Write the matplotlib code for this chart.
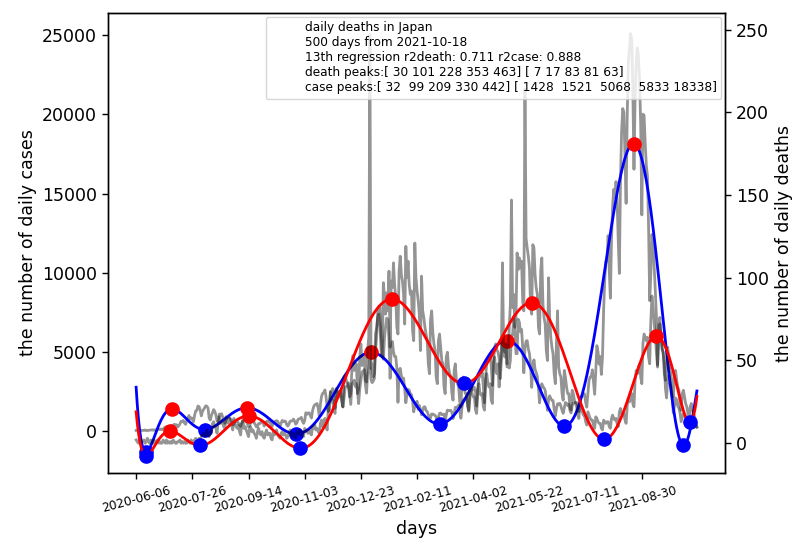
import numpy as np
import matplotlib
matplotlib.use("Agg")
import matplotlib.pyplot as plt

# ---------------- data (daily values, day 0 = 2020-06-06, weekly rows) ----------------
cases = [
    40, 47, 25, 38, 40, 42, 51,
    46, 72, 28, 44, 41, 57, 70,
    65, 77, 47, 81, 60, 96, 105,
    100, 131, 86, 126, 196, 250, 276,
    271, 206, 176, 210, 356, 355, 430,
    384, 398, 256, 331, 452, 622, 594,
    667, 510, 421, 630, 794, 981, 773,
    839, 764, 596, 984, 1264, 1300, 1580,
    1536, 1331, 959, 1236, 1357, 1485, 1595,
    1566, 1445, 815, 695, 972, 1178, 1357,
    1236, 1010, 641, 615, 1073, 1012, 1099,
    895, 738, 497, 695, 847, 883, 846,
    780, 602, 390, 451, 641, 612, 635,
    507, 414, 295, 500, 626, 648, 660,
    664, 436, 269, 363, 545, 587, 592,
    538, 415, 261, 306, 477, 467, 551,
    637, 512, 311, 513, 610, 636, 569,
    595, 411, 290, 552, 547, 623, 658,
    611, 438, 282, 495, 673, 585, 633,
    615, 402, 313, 440, 627, 628, 654,
    757, 625, 430, 511, 734, 769, 796,
    865, 610, 486, 659, 1160, 1062, 1138,
    1155, 978, 824, 1278, 1547, 1660, 1704,
    1738, 1439, 951, 1699, 2201, 2386, 2427,
    2596, 2168, 1520, 1228, 1942, 2504, 2508,
    2684, 2060, 1430, 2024, 2417, 2510, 2442,
    2508, 2026, 1521, 2081, 2797, 2810, 2784,
    3041, 2385, 1679, 2982, 3031, 3211, 2827,
    2991, 2494, 1734, 2666, 3211, 3741, 3766,
    3881, 2951, 2394, 3568, 3852, 4520, 3257,
    3058, 3158, 3317, 4917, 6004, 7570, 7882,
    7790, 6095, 4875, 4536, 5871, 6604, 7133,
    7014, 5759, 3328, 5320, 5653, 5009, 4701,
    4707, 3990, 1815, 3853, 3962, 3542, 3080,
    3343, 2673, 1787, 2324, 2631, 2576, 2369,
    2279, 1910, 1212, 1569, 1540, 1881, 1359,
    1617, 1360, 1026, 1305, 1521, 1532, 1295,
    1226, 1053, 739, 840, 1079, 1076, 1032,
    994, 873, 581, 890, 1123, 1137, 1035,
    1061, 1065, 599, 1036, 1323, 1294, 1296,
    1314, 1170, 789, 1067, 1500, 1481, 1523,
    1637, 1279, 807, 1511, 1922, 2031, 2089,
    2141, 1755, 1235, 2077, 2863, 2599, 2778,
    2756, 2464, 1573, 2664, 3447, 3451, 3452,
    3697, 2785, 1787, 3455, 4314, 4573, 4531,
    4801, 4092, 2885, 4339, 5292, 5499, 5120,
    5000, 4604, 3314, 4445, 5910, 5884, 4681,
    5977, 4046, 4132, 3978, 4451, 6057, 6054,
    7244, 6419, 4888, 4882, 7058, 6880, 6266,
    6422, 5233, 3681, 5248, 5683, 5709, 5187,
    4886, 4191, 2762, 4054, 4497, 3891, 3709,
    3449, 2728, 1780, 2636, 2987, 2809, 2718,
    2564, 2008, 1311, 1980, 2227, 2060, 1941,
    1931, 1386, 936, 1407, 1722, 1701, 1750,
    1572, 1308, 1120, 1458, 1801, 1753, 1607,
    1688, 1312, 1144, 1601, 1764, 1782, 1813,
    1793, 1569, 1226, 1916, 2193, 2227, 2269,
    2358, 1798, 1510, 2380, 3191, 3416, 3423,
    3869, 3103, 2320, 3758, 5397, 5017, 4225,
    4707, 3575, 4692, 7629, 9576, 10699, 10743,
    12341, 10168, 8392, 12016, 14207, 15263, 14745,
    15753, 14472, 12072, 9955, 15812, 18889, 20366,
    20137, 17420, 14377, 19955, 23317, 24148, 25100,
    24692, 21584, 16530, 21075, 23223, 24200, 23637,
    22147, 19296, 13646, 20011, 19934, 18160, 16781,
    16099, 12918, 8234, 9941, 12411, 11868, 10380,
    8861, 7211, 4168, 5736, 6773, 6211, 5157,
    4999, 4266, 2689, 2088, 3242, 3525, 3009,
    2809, 2185, 1146, 1583, 2084, 1979, 1564,
    1446, 1142, 591, 864, 1128, 1004, 851,
    781, 662, 369, 361, 611, 624, 622,
    507, 429, 230,
]

deaths = [
    2, 1, 0, 3, 2, 1, 1,
    2, 0, 1, 3, 1, 0, 2,
    1, 0, 2, 0, 1, 2, 0,
    1, 0, 0, 2, 1, 0, 2,
    0, 1, 0, 1, 0, 2, 1,
    0, 0, 1, 1, 2, 0, 1,
    0, 1, 0, 0, 2, 1, 0,
    2, 0, 1, 2, 3, 1, 2,
    3, 2, 4, 5, 6, 4, 5,
    8, 5, 4, 7, 6, 12, 13,
    10, 9, 6, 13, 16, 12, 14,
    12, 10, 9, 16, 14, 12, 15,
    13, 11, 8, 15, 12, 10, 9,
    11, 7, 5, 12, 14, 9, 10,
    8, 6, 4, 9, 10, 7, 8,
    6, 5, 3, 7, 9, 6, 5,
    7, 4, 3, 6, 8, 5, 6,
    6, 3, 2, 7, 5, 6, 8,
    5, 4, 3, 6, 7, 5, 6,
    5, 3, 4, 6, 8, 5, 4,
    6, 4, 3, 7, 6, 8, 5,
    7, 5, 4, 9, 8, 7, 6,
    8, 6, 5, 10, 9, 11, 8,
    9, 7, 6, 12, 14, 10, 13,
    15, 10, 8, 21, 20, 31, 25,
    26, 20, 18, 33, 31, 30, 28,
    32, 25, 22, 40, 41, 38, 36,
    34, 28, 30, 45, 53, 44, 46,
    48, 30, 33, 52, 60, 47, 50,
    52, 38, 37, 56, 64, 247, 45,
    48, 40, 42, 66, 70, 76, 78,
    70, 56, 52, 97, 88, 78, 91,
    80, 104, 58, 98, 94, 109, 96,
    88, 70, 66, 104, 113, 102, 98,
    90, 72, 119, 100, 110, 96, 90,
    92, 68, 62, 121, 100, 92, 86,
    78, 56, 101, 80, 76, 70, 66,
    62, 48, 42, 75, 80, 67, 60,
    56, 40, 36, 62, 66, 58, 50,
    48, 34, 30, 52, 55, 46, 42,
    40, 30, 26, 44, 48, 38, 36,
    34, 25, 22, 38, 40, 33, 30,
    30, 22, 20, 34, 36, 30, 28,
    28, 20, 18, 32, 36, 30, 29,
    30, 22, 20, 38, 42, 36, 34,
    36, 26, 24, 48, 52, 44, 42,
    48, 34, 46, 56, 109, 58, 55,
    60, 48, 52, 70, 84, 147, 82,
    90, 70, 76, 115, 105, 112, 106,
    110, 86, 80, 214, 124, 118, 113,
    106, 82, 78, 120, 118, 102, 94,
    90, 70, 66, 104, 112, 84, 76,
    72, 56, 50, 100, 76, 64, 58,
    54, 42, 36, 60, 80, 46, 42,
    40, 30, 26, 44, 40, 34, 30,
    30, 22, 20, 32, 30, 26, 24,
    22, 17, 15, 25, 22, 19, 17,
    17, 13, 11, 19, 17, 15, 14,
    14, 11, 9, 16, 15, 13, 12,
    12, 9, 8, 14, 13, 12, 13,
    13, 10, 9, 15, 17, 15, 14,
    15, 12, 10, 19, 21, 18, 17,
    18, 14, 12, 23, 27, 25, 28,
    30, 24, 22, 38, 44, 42, 46,
    48, 40, 36, 60, 66, 64, 62,
    64, 52, 48, 74, 89, 82, 72,
    66, 54, 46, 70, 76, 64, 58,
    54, 42, 38, 50, 58, 52, 44,
    42, 32, 28, 40, 44, 38, 34,
    32, 24, 20, 30, 32, 28, 24,
    22, 18, 14, 22, 24, 20, 18,
    16, 12, 10,
]

tick_days = [0, 50, 100, 150, 200, 250, 300, 350, 400, 450]
tick_labels = ["2020-06-06", "2020-07-26", "2020-09-14", "2020-11-03", "2020-12-23",
               "2021-02-11", "2021-04-02", "2021-05-22", "2021-07-11", "2021-08-30"]

info_text = ("daily deaths in Japan\n"
             "500 days from 2021-10-18\n"
             "13th regression r2death: 0.711 r2case: 0.888\n"
             "death peaks:[ 30 101 228 353 463] [ 7 17 83 81 63]\n"
             "case peaks:[ 32  99 209 330 442] [ 1428  1521  5068  5833 18338]")

degree = 13

# ---------------- computation ----------------
cases = np.array(cases, dtype=float)
deaths = np.array(deaths, dtype=float)
days = np.arange(len(cases))

case_fit = np.polynomial.Polynomial.fit(days, cases, degree)(days)
death_fit = np.polynomial.Polynomial.fit(days, deaths, degree)(days)


def extrema(y):
    d = np.sign(np.diff(y))
    ch = np.diff(d)
    mx = np.where(ch < 0)[0] + 1
    mn = np.where(ch > 0)[0] + 1
    return mx, mn


cmax, cmin = extrema(case_fit)
dmax, dmin = extrema(death_fit)

# ---------------- plot ----------------
fig = plt.figure(figsize=(7.92, 5.39), dpi=100)
ax1 = fig.add_axes([0.1364, 0.1224, 0.7790, 0.8535])
ax2 = ax1.twinx()

lw = 2.0
ms = 9.5
ax1.plot(days, cases, color="k", alpha=0.42, lw=lw)
ax1.plot(days, case_fit, color="blue", lw=lw)
ax1.plot(days[cmax], case_fit[cmax], "o", color="red", ms=ms)
ax1.plot(days[cmin], case_fit[cmin], "o", color="blue", ms=ms)

ax2.plot(days, deaths, color="k", alpha=0.42, lw=lw)
ax2.plot(days, death_fit, color="red", lw=lw)
ax2.plot(days[dmax], death_fit[dmax], "o", color="red", ms=ms)
ax2.plot(days[dmin], death_fit[dmin], "o", color="blue", ms=ms)
ax2.plot([], [], " ", label=info_text)
ax2.legend(loc="upper right", fontsize=8.7, borderaxespad=0.3)

ax1.set_xlim(-25, 524)
ax1.set_ylim(-2650, 26400)
ax2.set_ylim(-18, 260)

ax1.set_xticks(tick_days)
ax1.set_xticklabels(tick_labels, rotation=15, fontsize=8.7)
ax1.tick_params(axis="y", labelsize=12.5, length=4.4, width=1.0)
ax1.tick_params(axis="x", length=4.4, width=1.0)
ax2.tick_params(axis="y", labelsize=12.5, length=4.4, width=1.0)
for ax in (ax1, ax2):
    for s in ax.spines.values():
        s.set_linewidth(1.0)

ax1.set_xlabel("days", fontsize=12.5)
ax1.set_ylabel("the number of daily cases", fontsize=12.5)
ax2.set_ylabel("the number of daily deaths", fontsize=12.5)

fig.savefig("out.png", dpi=100)
